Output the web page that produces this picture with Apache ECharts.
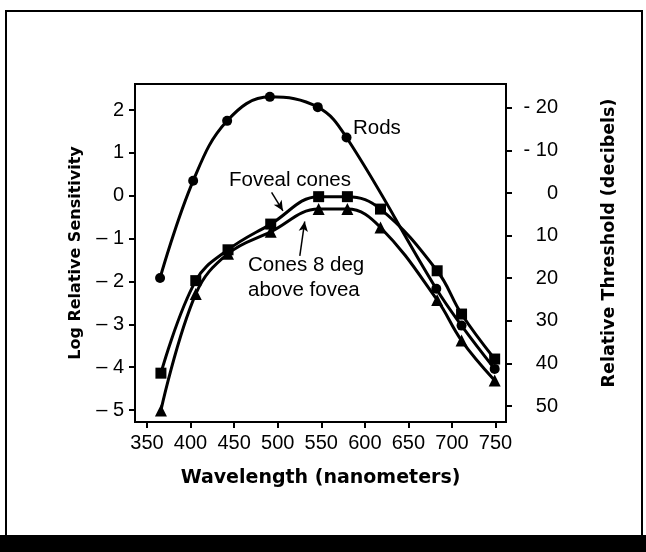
<!DOCTYPE html>
<html><head><meta charset="utf-8">
<script src="https://cdn.jsdelivr.net/npm/echarts@6/dist/echarts.min.js"></script>
<style>html,body{margin:0;padding:0;background:#fff}#c{width:646px;height:552px}</style>
</head><body><div id="c"></div>
<script>
// Wavelengths (nm) and log relative sensitivity values
const rodsWavelengths = [365, 403, 442, 491, 546, 579, 682, 711, 749];
const rodsValues = [-1.92, 0.35, 1.75, 2.31, 2.07, 1.36, -2.17, -3.03, -4.04];
const conesWavelengths = [366, 406, 443, 492, 547, 580, 618, 683, 711, 749];
const fovealValues = [-4.14, -1.98, -1.26, -0.66, -0.02, -0.02, -0.31, -1.75, -2.76, -3.81];
const peripheralValues = [-5.01, -2.29, -1.35, -0.84, -0.31, -0.31, -0.74, -2.43, -3.38, -4.31];
const xTicks = [350, 400, 450, 500, 550, 600, 650, 700, 750];
const leftTicks = [-5, -4, -3, -2, -1, 0, 1, 2];
const rightTicks = [-20, -10, 0, 10, 20, 30, 40, 50];

const pair = (xs, ys) => xs.map((x, i) => [x, ys[i]]);
const FONT = 'Liberation Sans';
const TITLE_FONT = 'DejaVu Sans';

const chart = echarts.init(document.getElementById('c'), null, {renderer: 'canvas'});
const lineStyle = {color: '#000', width: 3};
chart.setOption({
  backgroundColor: '#fff',
  animation: false,
  grid: {left: 135, right: 140, top: 84, bottom: 130, show: true, borderColor: '#000', borderWidth: 2},
  xAxis: {
    type: 'value', min: 336.25, max: 762,
    axisLine: {onZero: false, lineStyle: {color: '#000', width: 2}},
    axisTick: {customValues: xTicks, length: 6, lineStyle: {color: '#000', width: 2}},
    axisLabel: {customValues: xTicks, color: '#000', fontSize: 20, fontFamily: FONT, margin: 11},
    splitLine: {show: false},
    name: 'Wavelength (nanometers)', nameLocation: 'middle', nameGap: 47,
    nameTextStyle: {color: '#000', fontSize: 19, fontWeight: 'bold', fontFamily: TITLE_FONT}
  },
  yAxis: [{
    type: 'value', min: -5.28, max: 2.61, position: 'left',
    axisLine: {show: true, onZero: false, lineStyle: {color: '#000', width: 2}},
    axisTick: {show: true, customValues: leftTicks, length: 6, lineStyle: {color: '#000', width: 2}},
    axisLabel: {customValues: leftTicks, color: '#000', fontSize: 20, fontFamily: FONT, margin: 11,
      formatter: v => v < 0 ? '\u2013 ' + Math.abs(v) : String(v)},
    splitLine: {show: false},
    name: 'Log Relative Sensitivity', nameLocation: 'middle', nameGap: 51, nameRotate: 90,
    nameTextStyle: {color: '#000', fontSize: 16, fontWeight: 'bold', fontFamily: TITLE_FONT}
  }, {
    type: 'value', min: -25.6, max: 53.75, inverse: true, position: 'right',
    axisLine: {show: true, onZero: false, lineStyle: {color: '#000', width: 2}},
    axisTick: {show: true, customValues: rightTicks, length: 6, lineStyle: {color: '#000', width: 2}},
    axisLabel: {customValues: rightTicks, color: '#000', fontSize: 20, fontFamily: FONT, margin: 52, align: 'right',
      formatter: v => v < 0 ? '- ' + Math.abs(v) : String(v)},
    splitLine: {show: false},
    name: 'Relative Threshold (decibels)', nameLocation: 'middle', nameGap: 94, nameRotate: 90,
    nameTextStyle: {color: '#000', fontSize: 17.5, fontWeight: 'bold', fontFamily: TITLE_FONT, padding: [0, 0, 0, 20]}
  }],
  series: [{
    name: 'Rods', type: 'line', smooth: 0.4, data: pair(rodsWavelengths, rodsValues),
    symbol: 'circle', symbolSize: 10, lineStyle, itemStyle: {color: '#000'}
  }, {
    name: 'Foveal cones', type: 'line', smooth: 0.4, data: pair(conesWavelengths, fovealValues),
    symbol: 'rect', symbolSize: 11, lineStyle, itemStyle: {color: '#000'},
    markLine: {
      silent: true, symbol: ['none', 'arrow'], symbolSize: [7, 10],
      lineStyle: {color: '#000', width: 1.5, type: 'solid'}, label: {show: false},
      data: [
        [{coord: [493, 0.08]}, {coord: [506, -0.35]}],
        [{coord: [525.4, -1.40]}, {coord: [531, -0.60]}]
      ]
    }
  }, {
    name: 'Cones 8 deg above fovea', type: 'line', smooth: 0.4, data: pair(conesWavelengths, peripheralValues),
    symbol: 'triangle', symbolSize: 12, lineStyle, itemStyle: {color: '#000'}
  }],
  graphic: [
    {type: 'rect', shape: {x: 6, y: 11, width: 636, height: 530}, style: {fill: 'none', stroke: '#000', lineWidth: 2}, silent: true},
    {type: 'rect', shape: {x: 0, y: 535, width: 646, height: 17}, style: {fill: '#000'}, silent: true},
    {type: 'text', left: 353, top: 118, style: {text: 'Rods', font: '20.5px "Liberation Sans"', fill: '#000'}},
    {type: 'text', left: 229, top: 170, style: {text: 'Foveal cones', font: '20.5px "Liberation Sans"', fill: '#000'}},
    {type: 'text', left: 248, top: 253, style: {text: 'Cones 8 deg\nabove fovea', font: '20.5px "Liberation Sans"', fill: '#000', lineHeight: 25}}
  ]
});
</script></body></html>
